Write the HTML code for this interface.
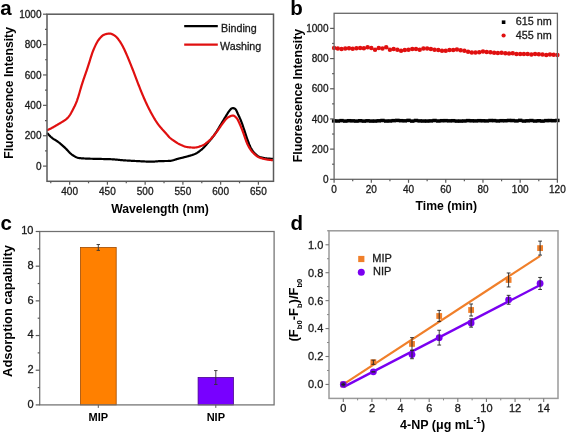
<!DOCTYPE html>
<html><head><meta charset="utf-8"><style>
html,body{margin:0;padding:0;background:#fff;width:567px;height:434px;overflow:hidden}
svg{display:block;filter:blur(0.3px)} text{font-family:"Liberation Sans", sans-serif} text[font-weight="normal"]{stroke:#1a1a1a;stroke-width:0.3px}
</style></head><body>
<svg width="567" height="434" viewBox="0 0 567 434">
<rect width="567" height="434" fill="#fff"/>
<text x="0.30" y="14.80" font-size="20.5" text-anchor="start" font-weight="bold" fill="#000" >a</text>
<path d="M47.00,133.07 L47.57,133.49 L48.13,134.06 L48.70,134.70 L49.27,135.31 L49.83,135.89 L50.40,136.44 L50.96,136.96 L51.53,137.45 L52.10,137.92 L52.66,138.36 L53.23,138.76 L53.80,139.13 L54.36,139.47 L54.93,139.79 L55.49,140.12 L56.06,140.47 L56.63,140.84 L57.19,141.23 L57.76,141.64 L58.33,142.06 L58.89,142.50 L59.46,142.94 L60.02,143.40 L60.59,143.87 L61.16,144.35 L61.72,144.83 L62.29,145.33 L62.86,145.82 L63.42,146.33 L63.99,146.83 L64.55,147.35 L65.12,147.88 L65.69,148.43 L66.25,149.02 L66.82,149.62 L67.39,150.24 L67.95,150.86 L68.52,151.48 L69.08,152.08 L69.65,152.66 L70.22,153.21 L70.78,153.72 L71.35,154.17 L71.91,154.59 L72.48,154.98 L73.05,155.36 L73.61,155.72 L74.18,156.07 L74.75,156.41 L75.31,156.73 L75.88,157.03 L76.44,157.29 L77.01,157.53 L77.58,157.72 L78.14,157.88 L78.71,158.00 L79.28,158.09 L79.84,158.15 L80.41,158.21 L80.97,158.26 L81.54,158.31 L82.11,158.35 L82.67,158.39 L83.24,158.43 L83.81,158.46 L84.37,158.49 L84.94,158.52 L85.50,158.55 L86.07,158.57 L86.64,158.60 L87.20,158.62 L87.77,158.64 L88.34,158.66 L88.90,158.68 L89.47,158.70 L90.03,158.71 L90.60,158.73 L91.17,158.75 L91.73,158.76 L92.30,158.77 L92.87,158.79 L93.43,158.80 L94.00,158.81 L94.56,158.82 L95.13,158.84 L95.70,158.85 L96.26,158.86 L96.83,158.87 L97.40,158.88 L97.96,158.89 L98.53,158.90 L99.09,158.92 L99.66,158.93 L100.23,158.94 L100.79,158.96 L101.36,158.97 L101.93,158.98 L102.49,159.00 L103.06,159.01 L103.62,159.03 L104.19,159.04 L104.76,159.05 L105.32,159.07 L105.89,159.08 L106.46,159.09 L107.02,159.11 L107.59,159.12 L108.16,159.14 L108.72,159.16 L109.29,159.18 L109.85,159.19 L110.42,159.21 L110.99,159.24 L111.55,159.26 L112.12,159.28 L112.69,159.31 L113.25,159.35 L113.82,159.39 L114.38,159.43 L114.95,159.48 L115.52,159.53 L116.08,159.58 L116.65,159.63 L117.22,159.69 L117.78,159.75 L118.35,159.81 L118.91,159.86 L119.48,159.92 L120.05,159.98 L120.61,160.04 L121.18,160.09 L121.75,160.15 L122.31,160.20 L122.88,160.25 L123.44,160.29 L124.01,160.33 L124.58,160.37 L125.14,160.41 L125.71,160.45 L126.28,160.49 L126.84,160.52 L127.41,160.56 L127.97,160.59 L128.54,160.62 L129.11,160.66 L129.67,160.69 L130.24,160.72 L130.81,160.75 L131.37,160.78 L131.94,160.81 L132.50,160.84 L133.07,160.87 L133.64,160.90 L134.20,160.93 L134.77,160.96 L135.33,160.99 L135.90,161.01 L136.47,161.04 L137.03,161.07 L137.60,161.10 L138.17,161.12 L138.73,161.15 L139.30,161.18 L139.87,161.21 L140.43,161.25 L141.00,161.28 L141.56,161.31 L142.13,161.34 L142.70,161.37 L143.26,161.41 L143.83,161.44 L144.39,161.47 L144.96,161.50 L145.53,161.52 L146.09,161.55 L146.66,161.58 L147.23,161.60 L147.79,161.62 L148.36,161.64 L148.93,161.66 L149.49,161.67 L150.06,161.68 L150.62,161.69 L151.19,161.70 L151.76,161.70 L152.32,161.69 L152.89,161.68 L153.45,161.65 L154.02,161.61 L154.59,161.57 L155.15,161.52 L155.72,161.47 L156.29,161.41 L156.85,161.35 L157.42,161.30 L157.99,161.24 L158.55,161.20 L159.12,161.16 L159.68,161.13 L160.25,161.10 L160.82,161.08 L161.38,161.07 L161.95,161.06 L162.51,161.05 L163.08,161.04 L163.65,161.04 L164.21,161.03 L164.78,161.02 L165.35,161.02 L165.91,161.01 L166.48,161.00 L167.05,161.00 L167.61,160.98 L168.18,160.97 L168.74,160.96 L169.31,160.93 L169.88,160.89 L170.44,160.83 L171.01,160.75 L171.57,160.64 L172.14,160.51 L172.71,160.37 L173.27,160.21 L173.84,160.05 L174.41,159.87 L174.97,159.69 L175.54,159.51 L176.10,159.33 L176.67,159.16 L177.24,158.99 L177.80,158.82 L178.37,158.67 L178.94,158.53 L179.50,158.39 L180.07,158.25 L180.63,158.11 L181.20,157.97 L181.77,157.84 L182.33,157.70 L182.90,157.56 L183.47,157.42 L184.03,157.28 L184.60,157.14 L185.16,157.00 L185.73,156.85 L186.30,156.70 L186.86,156.54 L187.43,156.39 L188.00,156.23 L188.56,156.07 L189.13,155.91 L189.69,155.75 L190.26,155.59 L190.83,155.43 L191.39,155.25 L191.96,155.08 L192.53,154.89 L193.09,154.69 L193.66,154.48 L194.22,154.26 L194.79,154.02 L195.36,153.76 L195.92,153.48 L196.49,153.18 L197.06,152.85 L197.62,152.50 L198.19,152.12 L198.75,151.73 L199.32,151.32 L199.89,150.90 L200.45,150.46 L201.02,150.01 L201.59,149.54 L202.15,149.06 L202.72,148.55 L203.28,148.01 L203.85,147.44 L204.42,146.85 L204.98,146.24 L205.55,145.61 L206.12,144.97 L206.68,144.31 L207.25,143.65 L207.81,142.99 L208.38,142.33 L208.95,141.66 L209.51,140.99 L210.08,140.32 L210.65,139.64 L211.21,138.94 L211.78,138.24 L212.34,137.52 L212.91,136.79 L213.48,136.05 L214.04,135.28 L214.61,134.50 L215.18,133.70 L215.74,132.87 L216.31,132.00 L216.88,131.11 L217.44,130.19 L218.01,129.24 L218.57,128.29 L219.14,127.33 L219.71,126.37 L220.27,125.42 L220.84,124.48 L221.41,123.54 L221.97,122.60 L222.54,121.65 L223.10,120.71 L223.67,119.77 L224.24,118.83 L224.80,117.90 L225.37,116.98 L225.94,116.06 L226.50,115.14 L227.07,114.22 L227.63,113.31 L228.20,112.43 L228.77,111.60 L229.33,110.83 L229.90,110.10 L230.47,109.43 L231.03,108.86 L231.60,108.46 L232.16,108.22 L232.73,108.15 L233.30,108.19 L233.86,108.30 L234.43,108.44 L235.00,108.69 L235.56,109.24 L236.13,110.11 L236.69,111.22 L237.26,112.51 L237.83,113.80 L238.39,114.99 L238.96,116.16 L239.53,117.35 L240.09,118.61 L240.66,119.95 L241.22,121.39 L241.79,122.91 L242.36,124.49 L242.92,126.11 L243.49,127.76 L244.06,129.45 L244.62,131.16 L245.19,132.91 L245.75,134.66 L246.32,136.38 L246.89,138.05 L247.45,139.67 L248.02,141.24 L248.59,142.75 L249.15,144.21 L249.72,145.57 L250.28,146.80 L250.85,147.92 L251.42,148.92 L251.98,149.84 L252.55,150.68 L253.12,151.44 L253.68,152.14 L254.25,152.78 L254.81,153.37 L255.38,153.92 L255.95,154.44 L256.51,154.94 L257.08,155.41 L257.64,155.83 L258.21,156.21 L258.78,156.53 L259.34,156.80 L259.91,157.02 L260.48,157.21 L261.04,157.37 L261.61,157.53 L262.18,157.67 L262.74,157.80 L263.31,157.92 L263.87,158.03 L264.44,158.13 L265.01,158.22 L265.57,158.31 L266.14,158.38 L266.71,158.44 L267.27,158.49 L267.84,158.54 L268.40,158.58 L268.97,158.63 L269.54,158.66 L270.10,158.70 L270.67,158.73 L271.24,158.76 L271.80,158.78 L272.37,158.80 L272.93,158.81 L273.50,158.81" fill="none" stroke="#000" stroke-width="2.2" stroke-linejoin="round"/>
<path d="M47.00,130.27 L47.57,130.10 L48.13,129.86 L48.70,129.58 L49.27,129.30 L49.83,129.01 L50.40,128.72 L50.96,128.42 L51.53,128.12 L52.10,127.82 L52.66,127.51 L53.23,127.19 L53.80,126.87 L54.36,126.55 L54.93,126.21 L55.49,125.87 L56.06,125.53 L56.63,125.19 L57.19,124.85 L57.76,124.51 L58.33,124.18 L58.89,123.85 L59.46,123.52 L60.02,123.19 L60.59,122.85 L61.16,122.52 L61.72,122.17 L62.29,121.82 L62.86,121.47 L63.42,121.11 L63.99,120.76 L64.55,120.39 L65.12,120.01 L65.69,119.60 L66.25,119.17 L66.82,118.69 L67.39,118.15 L67.95,117.55 L68.52,116.89 L69.08,116.17 L69.65,115.38 L70.22,114.51 L70.78,113.57 L71.35,112.56 L71.91,111.50 L72.48,110.42 L73.05,109.33 L73.61,108.23 L74.18,107.09 L74.75,105.92 L75.31,104.70 L75.88,103.41 L76.44,102.05 L77.01,100.58 L77.58,98.99 L78.14,97.27 L78.71,95.43 L79.28,93.51 L79.84,91.53 L80.41,89.55 L80.97,87.58 L81.54,85.68 L82.11,83.84 L82.67,82.07 L83.24,80.36 L83.81,78.69 L84.37,77.04 L84.94,75.41 L85.50,73.79 L86.07,72.16 L86.64,70.53 L87.20,68.87 L87.77,67.17 L88.34,65.42 L88.90,63.63 L89.47,61.80 L90.03,59.95 L90.60,58.11 L91.17,56.32 L91.73,54.60 L92.30,52.97 L92.87,51.44 L93.43,50.01 L94.00,48.66 L94.56,47.36 L95.13,46.10 L95.70,44.90 L96.26,43.76 L96.83,42.69 L97.40,41.70 L97.96,40.79 L98.53,39.97 L99.09,39.22 L99.66,38.53 L100.23,37.87 L100.79,37.24 L101.36,36.65 L101.93,36.12 L102.49,35.64 L103.06,35.24 L103.62,34.91 L104.19,34.64 L104.76,34.43 L105.32,34.25 L105.89,34.10 L106.46,33.95 L107.02,33.83 L107.59,33.72 L108.16,33.63 L108.72,33.57 L109.29,33.53 L109.85,33.54 L110.42,33.60 L110.99,33.71 L111.55,33.89 L112.12,34.13 L112.69,34.41 L113.25,34.72 L113.82,35.06 L114.38,35.42 L114.95,35.81 L115.52,36.24 L116.08,36.73 L116.65,37.29 L117.22,37.91 L117.78,38.58 L118.35,39.29 L118.91,40.04 L119.48,40.82 L120.05,41.65 L120.61,42.54 L121.18,43.49 L121.75,44.49 L122.31,45.53 L122.88,46.61 L123.44,47.72 L124.01,48.86 L124.58,50.04 L125.14,51.27 L125.71,52.52 L126.28,53.80 L126.84,55.10 L127.41,56.41 L127.97,57.75 L128.54,59.11 L129.11,60.49 L129.67,61.89 L130.24,63.30 L130.81,64.71 L131.37,66.14 L131.94,67.57 L132.50,69.01 L133.07,70.46 L133.64,71.92 L134.20,73.39 L134.77,74.87 L135.33,76.34 L135.90,77.82 L136.47,79.30 L137.03,80.79 L137.60,82.28 L138.17,83.77 L138.73,85.26 L139.30,86.72 L139.87,88.16 L140.43,89.59 L141.00,90.99 L141.56,92.38 L142.13,93.76 L142.70,95.11 L143.26,96.44 L143.83,97.76 L144.39,99.05 L144.96,100.32 L145.53,101.58 L146.09,102.81 L146.66,104.02 L147.23,105.22 L147.79,106.38 L148.36,107.53 L148.93,108.65 L149.49,109.76 L150.06,110.84 L150.62,111.91 L151.19,112.95 L151.76,113.98 L152.32,115.00 L152.89,116.00 L153.45,116.99 L154.02,117.96 L154.59,118.92 L155.15,119.86 L155.72,120.76 L156.29,121.64 L156.85,122.48 L157.42,123.29 L157.99,124.08 L158.55,124.83 L159.12,125.56 L159.68,126.28 L160.25,126.98 L160.82,127.66 L161.38,128.33 L161.95,128.99 L162.51,129.62 L163.08,130.24 L163.65,130.85 L164.21,131.45 L164.78,132.06 L165.35,132.67 L165.91,133.30 L166.48,133.95 L167.05,134.62 L167.61,135.30 L168.18,135.98 L168.74,136.62 L169.31,137.21 L169.88,137.75 L170.44,138.25 L171.01,138.71 L171.57,139.15 L172.14,139.56 L172.71,139.96 L173.27,140.35 L173.84,140.74 L174.41,141.12 L174.97,141.51 L175.54,141.89 L176.10,142.26 L176.67,142.63 L177.24,142.99 L177.80,143.34 L178.37,143.67 L178.94,143.99 L179.50,144.29 L180.07,144.57 L180.63,144.83 L181.20,145.09 L181.77,145.33 L182.33,145.57 L182.90,145.80 L183.47,146.03 L184.03,146.24 L184.60,146.44 L185.16,146.62 L185.73,146.78 L186.30,146.91 L186.86,147.02 L187.43,147.11 L188.00,147.18 L188.56,147.24 L189.13,147.30 L189.69,147.35 L190.26,147.40 L190.83,147.44 L191.39,147.48 L191.96,147.51 L192.53,147.54 L193.09,147.55 L193.66,147.56 L194.22,147.56 L194.79,147.54 L195.36,147.50 L195.92,147.43 L196.49,147.34 L197.06,147.22 L197.62,147.09 L198.19,146.94 L198.75,146.77 L199.32,146.60 L199.89,146.41 L200.45,146.22 L201.02,146.02 L201.59,145.81 L202.15,145.58 L202.72,145.33 L203.28,145.04 L203.85,144.72 L204.42,144.37 L204.98,144.00 L205.55,143.60 L206.12,143.17 L206.68,142.73 L207.25,142.28 L207.81,141.82 L208.38,141.34 L208.95,140.85 L209.51,140.32 L210.08,139.77 L210.65,139.19 L211.21,138.57 L211.78,137.94 L212.34,137.28 L212.91,136.61 L213.48,135.93 L214.04,135.23 L214.61,134.53 L215.18,133.83 L215.74,133.11 L216.31,132.37 L216.88,131.61 L217.44,130.82 L218.01,130.03 L218.57,129.22 L219.14,128.40 L219.71,127.58 L220.27,126.77 L220.84,125.98 L221.41,125.19 L221.97,124.43 L222.54,123.67 L223.10,122.91 L223.67,122.15 L224.24,121.38 L224.80,120.61 L225.37,119.88 L225.94,119.20 L226.50,118.59 L227.07,118.07 L227.63,117.63 L228.20,117.26 L228.77,116.94 L229.33,116.65 L229.90,116.37 L230.47,116.13 L231.03,115.92 L231.60,115.76 L232.16,115.64 L232.73,115.60 L233.30,115.65 L233.86,115.81 L234.43,116.10 L235.00,116.50 L235.56,116.99 L236.13,117.54 L236.69,118.19 L237.26,118.95 L237.83,119.87 L238.39,120.95 L238.96,122.17 L239.53,123.47 L240.09,124.80 L240.66,126.16 L241.22,127.54 L241.79,128.95 L242.36,130.41 L242.92,131.90 L243.49,133.44 L244.06,135.03 L244.62,136.67 L245.19,138.34 L245.75,139.98 L246.32,141.52 L246.89,142.92 L247.45,144.18 L248.02,145.33 L248.59,146.40 L249.15,147.40 L249.72,148.35 L250.28,149.24 L250.85,150.06 L251.42,150.82 L251.98,151.51 L252.55,152.16 L253.12,152.76 L253.68,153.34 L254.25,153.90 L254.81,154.43 L255.38,154.94 L255.95,155.42 L256.51,155.86 L257.08,156.27 L257.64,156.64 L258.21,156.97 L258.78,157.26 L259.34,157.50 L259.91,157.72 L260.48,157.91 L261.04,158.09 L261.61,158.27 L262.18,158.43 L262.74,158.59 L263.31,158.73 L263.87,158.88 L264.44,159.01 L265.01,159.13 L265.57,159.25 L266.14,159.36 L266.71,159.47 L267.27,159.56 L267.84,159.65 L268.40,159.74 L268.97,159.81 L269.54,159.88 L270.10,159.94 L270.67,160.00 L271.24,160.05 L271.80,160.09 L272.37,160.13 L272.93,160.15 L273.50,160.17" fill="none" stroke="#e01010" stroke-width="2.2" stroke-linejoin="round"/>
<rect x="47" y="14.2" width="226.5" height="167.10000000000002" fill="none" stroke="#5a5a5a" stroke-width="1.5"/>
<line x1="43.00" y1="166.11" x2="47.00" y2="166.11" stroke="#5a5a5a" stroke-width="1.2"/>
<text x="41.50" y="169.71" font-size="10" text-anchor="end" font-weight="normal" fill="#1a1a1a" >0</text>
<line x1="43.00" y1="135.73" x2="47.00" y2="135.73" stroke="#5a5a5a" stroke-width="1.2"/>
<text x="41.50" y="139.33" font-size="10" text-anchor="end" font-weight="normal" fill="#1a1a1a" >200</text>
<line x1="43.00" y1="105.35" x2="47.00" y2="105.35" stroke="#5a5a5a" stroke-width="1.2"/>
<text x="41.50" y="108.95" font-size="10" text-anchor="end" font-weight="normal" fill="#1a1a1a" >400</text>
<line x1="43.00" y1="74.96" x2="47.00" y2="74.96" stroke="#5a5a5a" stroke-width="1.2"/>
<text x="41.50" y="78.56" font-size="10" text-anchor="end" font-weight="normal" fill="#1a1a1a" >600</text>
<line x1="43.00" y1="44.58" x2="47.00" y2="44.58" stroke="#5a5a5a" stroke-width="1.2"/>
<text x="41.50" y="48.18" font-size="10" text-anchor="end" font-weight="normal" fill="#1a1a1a" >800</text>
<line x1="43.00" y1="14.20" x2="47.00" y2="14.20" stroke="#5a5a5a" stroke-width="1.2"/>
<text x="41.50" y="17.80" font-size="10" text-anchor="end" font-weight="normal" fill="#1a1a1a" >1000</text>
<line x1="45.00" y1="150.92" x2="47.00" y2="150.92" stroke="#5a5a5a" stroke-width="1.2"/>
<line x1="45.00" y1="120.54" x2="47.00" y2="120.54" stroke="#5a5a5a" stroke-width="1.2"/>
<line x1="45.00" y1="90.15" x2="47.00" y2="90.15" stroke="#5a5a5a" stroke-width="1.2"/>
<line x1="45.00" y1="59.77" x2="47.00" y2="59.77" stroke="#5a5a5a" stroke-width="1.2"/>
<line x1="45.00" y1="29.39" x2="47.00" y2="29.39" stroke="#5a5a5a" stroke-width="1.2"/>
<line x1="69.65" y1="181.30" x2="69.65" y2="184.80" stroke="#5a5a5a" stroke-width="1.2"/>
<text x="69.65" y="195.30" font-size="10" text-anchor="middle" font-weight="normal" fill="#1a1a1a" >400</text>
<line x1="107.40" y1="181.30" x2="107.40" y2="184.80" stroke="#5a5a5a" stroke-width="1.2"/>
<text x="107.40" y="195.30" font-size="10" text-anchor="middle" font-weight="normal" fill="#1a1a1a" >450</text>
<line x1="145.15" y1="181.30" x2="145.15" y2="184.80" stroke="#5a5a5a" stroke-width="1.2"/>
<text x="145.15" y="195.30" font-size="10" text-anchor="middle" font-weight="normal" fill="#1a1a1a" >500</text>
<line x1="182.90" y1="181.30" x2="182.90" y2="184.80" stroke="#5a5a5a" stroke-width="1.2"/>
<text x="182.90" y="195.30" font-size="10" text-anchor="middle" font-weight="normal" fill="#1a1a1a" >550</text>
<line x1="220.65" y1="181.30" x2="220.65" y2="184.80" stroke="#5a5a5a" stroke-width="1.2"/>
<text x="220.65" y="195.30" font-size="10" text-anchor="middle" font-weight="normal" fill="#1a1a1a" >600</text>
<line x1="258.40" y1="181.30" x2="258.40" y2="184.80" stroke="#5a5a5a" stroke-width="1.2"/>
<text x="258.40" y="195.30" font-size="10" text-anchor="middle" font-weight="normal" fill="#1a1a1a" >650</text>
<line x1="50.77" y1="181.30" x2="50.77" y2="183.30" stroke="#5a5a5a" stroke-width="1.2"/>
<line x1="88.53" y1="181.30" x2="88.53" y2="183.30" stroke="#5a5a5a" stroke-width="1.2"/>
<line x1="126.28" y1="181.30" x2="126.28" y2="183.30" stroke="#5a5a5a" stroke-width="1.2"/>
<line x1="164.03" y1="181.30" x2="164.03" y2="183.30" stroke="#5a5a5a" stroke-width="1.2"/>
<line x1="201.78" y1="181.30" x2="201.78" y2="183.30" stroke="#5a5a5a" stroke-width="1.2"/>
<line x1="239.53" y1="181.30" x2="239.53" y2="183.30" stroke="#5a5a5a" stroke-width="1.2"/>
<text x="12.60" y="92.90" font-size="12.15" text-anchor="middle" font-weight="bold" fill="#000" transform="rotate(-90 12.6 92.9)">Fluorescence Intensity</text>
<text x="160.00" y="212.90" font-size="12.2" text-anchor="middle" font-weight="bold" fill="#000" >Wavelength (nm)</text>
<line x1="184.20" y1="26.20" x2="217.80" y2="26.20" stroke="#000" stroke-width="2.2"/>
<text x="221.00" y="31.80" font-size="10.7" text-anchor="start" font-weight="normal" fill="#1a1a1a" >Binding</text>
<line x1="184.20" y1="44.70" x2="217.80" y2="44.70" stroke="#e01010" stroke-width="2.2"/>
<text x="220.00" y="49.80" font-size="10.7" text-anchor="start" font-weight="normal" fill="#1a1a1a" >Washing</text>
<text x="290.20" y="15.20" font-size="20.5" text-anchor="start" font-weight="bold" fill="#000" >b</text>
<rect x="331.90" y="119.13" width="4.4" height="3.5" fill="#000"/>
<rect x="335.62" y="119.26" width="4.4" height="3.5" fill="#000"/>
<rect x="339.34" y="118.88" width="4.4" height="3.5" fill="#000"/>
<rect x="343.07" y="119.32" width="4.4" height="3.5" fill="#000"/>
<rect x="346.79" y="118.97" width="4.4" height="3.5" fill="#000"/>
<rect x="350.51" y="119.10" width="4.4" height="3.5" fill="#000"/>
<rect x="354.23" y="119.33" width="4.4" height="3.5" fill="#000"/>
<rect x="357.95" y="118.99" width="4.4" height="3.5" fill="#000"/>
<rect x="361.67" y="119.35" width="4.4" height="3.5" fill="#000"/>
<rect x="365.40" y="119.05" width="4.4" height="3.5" fill="#000"/>
<rect x="369.12" y="119.32" width="4.4" height="3.5" fill="#000"/>
<rect x="372.84" y="119.31" width="4.4" height="3.5" fill="#000"/>
<rect x="376.56" y="119.05" width="4.4" height="3.5" fill="#000"/>
<rect x="380.28" y="118.75" width="4.4" height="3.5" fill="#000"/>
<rect x="384.00" y="119.28" width="4.4" height="3.5" fill="#000"/>
<rect x="387.73" y="119.21" width="4.4" height="3.5" fill="#000"/>
<rect x="391.45" y="118.90" width="4.4" height="3.5" fill="#000"/>
<rect x="395.17" y="118.66" width="4.4" height="3.5" fill="#000"/>
<rect x="398.89" y="118.94" width="4.4" height="3.5" fill="#000"/>
<rect x="402.61" y="119.08" width="4.4" height="3.5" fill="#000"/>
<rect x="406.33" y="118.64" width="4.4" height="3.5" fill="#000"/>
<rect x="410.06" y="119.34" width="4.4" height="3.5" fill="#000"/>
<rect x="413.78" y="118.73" width="4.4" height="3.5" fill="#000"/>
<rect x="417.50" y="119.16" width="4.4" height="3.5" fill="#000"/>
<rect x="421.22" y="119.27" width="4.4" height="3.5" fill="#000"/>
<rect x="424.94" y="119.29" width="4.4" height="3.5" fill="#000"/>
<rect x="428.66" y="119.14" width="4.4" height="3.5" fill="#000"/>
<rect x="432.38" y="118.76" width="4.4" height="3.5" fill="#000"/>
<rect x="436.11" y="119.24" width="4.4" height="3.5" fill="#000"/>
<rect x="439.83" y="118.94" width="4.4" height="3.5" fill="#000"/>
<rect x="443.55" y="118.89" width="4.4" height="3.5" fill="#000"/>
<rect x="447.27" y="119.09" width="4.4" height="3.5" fill="#000"/>
<rect x="450.99" y="118.96" width="4.4" height="3.5" fill="#000"/>
<rect x="454.72" y="119.33" width="4.4" height="3.5" fill="#000"/>
<rect x="458.44" y="119.33" width="4.4" height="3.5" fill="#000"/>
<rect x="462.16" y="119.22" width="4.4" height="3.5" fill="#000"/>
<rect x="465.88" y="118.86" width="4.4" height="3.5" fill="#000"/>
<rect x="469.60" y="119.05" width="4.4" height="3.5" fill="#000"/>
<rect x="473.32" y="119.14" width="4.4" height="3.5" fill="#000"/>
<rect x="477.05" y="118.93" width="4.4" height="3.5" fill="#000"/>
<rect x="480.77" y="119.03" width="4.4" height="3.5" fill="#000"/>
<rect x="484.49" y="119.15" width="4.4" height="3.5" fill="#000"/>
<rect x="488.21" y="118.78" width="4.4" height="3.5" fill="#000"/>
<rect x="491.93" y="118.85" width="4.4" height="3.5" fill="#000"/>
<rect x="495.65" y="119.19" width="4.4" height="3.5" fill="#000"/>
<rect x="499.38" y="118.94" width="4.4" height="3.5" fill="#000"/>
<rect x="503.10" y="118.98" width="4.4" height="3.5" fill="#000"/>
<rect x="506.82" y="118.71" width="4.4" height="3.5" fill="#000"/>
<rect x="510.54" y="118.82" width="4.4" height="3.5" fill="#000"/>
<rect x="514.26" y="119.16" width="4.4" height="3.5" fill="#000"/>
<rect x="517.98" y="118.63" width="4.4" height="3.5" fill="#000"/>
<rect x="521.70" y="119.29" width="4.4" height="3.5" fill="#000"/>
<rect x="525.43" y="119.06" width="4.4" height="3.5" fill="#000"/>
<rect x="529.15" y="118.80" width="4.4" height="3.5" fill="#000"/>
<rect x="532.87" y="119.26" width="4.4" height="3.5" fill="#000"/>
<rect x="536.59" y="119.01" width="4.4" height="3.5" fill="#000"/>
<rect x="540.31" y="119.34" width="4.4" height="3.5" fill="#000"/>
<rect x="544.03" y="118.87" width="4.4" height="3.5" fill="#000"/>
<rect x="547.76" y="118.80" width="4.4" height="3.5" fill="#000"/>
<rect x="551.48" y="118.94" width="4.4" height="3.5" fill="#000"/>
<rect x="555.20" y="118.71" width="4.4" height="3.5" fill="#000"/>
<circle cx="334.10" cy="47.95" r="2.25" fill="#e01010"/>
<circle cx="337.82" cy="48.58" r="2.25" fill="#e01010"/>
<circle cx="341.54" cy="49.01" r="2.25" fill="#e01010"/>
<circle cx="345.27" cy="48.58" r="2.25" fill="#e01010"/>
<circle cx="348.99" cy="48.16" r="2.25" fill="#e01010"/>
<circle cx="352.71" cy="48.79" r="2.25" fill="#e01010"/>
<circle cx="356.43" cy="48.16" r="2.25" fill="#e01010"/>
<circle cx="360.15" cy="47.95" r="2.25" fill="#e01010"/>
<circle cx="363.87" cy="48.16" r="2.25" fill="#e01010"/>
<circle cx="367.60" cy="47.31" r="2.25" fill="#e01010"/>
<circle cx="371.32" cy="47.95" r="2.25" fill="#e01010"/>
<circle cx="375.04" cy="49.64" r="2.25" fill="#e01010"/>
<circle cx="378.76" cy="47.95" r="2.25" fill="#e01010"/>
<circle cx="382.48" cy="48.58" r="2.25" fill="#e01010"/>
<circle cx="386.20" cy="47.31" r="2.25" fill="#e01010"/>
<circle cx="389.93" cy="49.64" r="2.25" fill="#e01010"/>
<circle cx="393.65" cy="49.01" r="2.25" fill="#e01010"/>
<circle cx="397.37" cy="49.64" r="2.25" fill="#e01010"/>
<circle cx="401.09" cy="50.70" r="2.25" fill="#e01010"/>
<circle cx="404.81" cy="50.06" r="2.25" fill="#e01010"/>
<circle cx="408.53" cy="49.64" r="2.25" fill="#e01010"/>
<circle cx="412.25" cy="49.01" r="2.25" fill="#e01010"/>
<circle cx="415.98" cy="49.01" r="2.25" fill="#e01010"/>
<circle cx="419.70" cy="49.64" r="2.25" fill="#e01010"/>
<circle cx="423.42" cy="48.58" r="2.25" fill="#e01010"/>
<circle cx="427.14" cy="48.58" r="2.25" fill="#e01010"/>
<circle cx="430.86" cy="49.01" r="2.25" fill="#e01010"/>
<circle cx="434.58" cy="49.64" r="2.25" fill="#e01010"/>
<circle cx="438.31" cy="50.06" r="2.25" fill="#e01010"/>
<circle cx="442.03" cy="50.70" r="2.25" fill="#e01010"/>
<circle cx="445.75" cy="50.70" r="2.25" fill="#e01010"/>
<circle cx="449.47" cy="49.97" r="2.25" fill="#e01010"/>
<circle cx="453.19" cy="49.97" r="2.25" fill="#e01010"/>
<circle cx="456.92" cy="49.58" r="2.25" fill="#e01010"/>
<circle cx="460.64" cy="50.22" r="2.25" fill="#e01010"/>
<circle cx="464.36" cy="50.77" r="2.25" fill="#e01010"/>
<circle cx="468.08" cy="51.74" r="2.25" fill="#e01010"/>
<circle cx="471.80" cy="52.49" r="2.25" fill="#e01010"/>
<circle cx="475.52" cy="52.61" r="2.25" fill="#e01010"/>
<circle cx="479.25" cy="52.34" r="2.25" fill="#e01010"/>
<circle cx="482.97" cy="51.42" r="2.25" fill="#e01010"/>
<circle cx="486.69" cy="51.95" r="2.25" fill="#e01010"/>
<circle cx="490.41" cy="52.22" r="2.25" fill="#e01010"/>
<circle cx="494.13" cy="52.79" r="2.25" fill="#e01010"/>
<circle cx="497.85" cy="52.94" r="2.25" fill="#e01010"/>
<circle cx="501.57" cy="52.79" r="2.25" fill="#e01010"/>
<circle cx="505.30" cy="53.13" r="2.25" fill="#e01010"/>
<circle cx="509.02" cy="53.60" r="2.25" fill="#e01010"/>
<circle cx="512.74" cy="53.33" r="2.25" fill="#e01010"/>
<circle cx="516.46" cy="53.91" r="2.25" fill="#e01010"/>
<circle cx="520.18" cy="53.88" r="2.25" fill="#e01010"/>
<circle cx="523.90" cy="54.05" r="2.25" fill="#e01010"/>
<circle cx="527.63" cy="54.05" r="2.25" fill="#e01010"/>
<circle cx="531.35" cy="54.61" r="2.25" fill="#e01010"/>
<circle cx="535.07" cy="54.10" r="2.25" fill="#e01010"/>
<circle cx="538.79" cy="54.33" r="2.25" fill="#e01010"/>
<circle cx="542.51" cy="54.59" r="2.25" fill="#e01010"/>
<circle cx="546.23" cy="55.10" r="2.25" fill="#e01010"/>
<circle cx="549.96" cy="54.50" r="2.25" fill="#e01010"/>
<circle cx="553.68" cy="54.83" r="2.25" fill="#e01010"/>
<circle cx="557.40" cy="54.94" r="2.25" fill="#e01010"/>
<rect x="334.1" y="13.3" width="223.29999999999995" height="166.0" fill="none" stroke="#686868" stroke-width="1.3"/>
<line x1="330.10" y1="179.30" x2="334.10" y2="179.30" stroke="#5a5a5a" stroke-width="1.2"/>
<text x="328.50" y="182.90" font-size="10" text-anchor="end" font-weight="normal" fill="#1a1a1a" >0</text>
<line x1="330.10" y1="149.12" x2="334.10" y2="149.12" stroke="#5a5a5a" stroke-width="1.2"/>
<text x="328.50" y="152.72" font-size="10" text-anchor="end" font-weight="normal" fill="#1a1a1a" >200</text>
<line x1="330.10" y1="118.94" x2="334.10" y2="118.94" stroke="#5a5a5a" stroke-width="1.2"/>
<text x="328.50" y="122.54" font-size="10" text-anchor="end" font-weight="normal" fill="#1a1a1a" >400</text>
<line x1="330.10" y1="88.75" x2="334.10" y2="88.75" stroke="#5a5a5a" stroke-width="1.2"/>
<text x="328.50" y="92.35" font-size="10" text-anchor="end" font-weight="normal" fill="#1a1a1a" >600</text>
<line x1="330.10" y1="58.57" x2="334.10" y2="58.57" stroke="#5a5a5a" stroke-width="1.2"/>
<text x="328.50" y="62.17" font-size="10" text-anchor="end" font-weight="normal" fill="#1a1a1a" >800</text>
<line x1="330.10" y1="28.39" x2="334.10" y2="28.39" stroke="#5a5a5a" stroke-width="1.2"/>
<text x="328.50" y="31.99" font-size="10" text-anchor="end" font-weight="normal" fill="#1a1a1a" >1000</text>
<line x1="332.10" y1="164.21" x2="334.10" y2="164.21" stroke="#5a5a5a" stroke-width="1.2"/>
<line x1="332.10" y1="134.03" x2="334.10" y2="134.03" stroke="#5a5a5a" stroke-width="1.2"/>
<line x1="332.10" y1="103.85" x2="334.10" y2="103.85" stroke="#5a5a5a" stroke-width="1.2"/>
<line x1="332.10" y1="73.66" x2="334.10" y2="73.66" stroke="#5a5a5a" stroke-width="1.2"/>
<line x1="332.10" y1="43.48" x2="334.10" y2="43.48" stroke="#5a5a5a" stroke-width="1.2"/>
<line x1="334.10" y1="179.30" x2="334.10" y2="182.80" stroke="#5a5a5a" stroke-width="1.2"/>
<text x="334.10" y="193.00" font-size="10" text-anchor="middle" font-weight="normal" fill="#1a1a1a" >0</text>
<line x1="371.32" y1="179.30" x2="371.32" y2="182.80" stroke="#5a5a5a" stroke-width="1.2"/>
<text x="371.32" y="193.00" font-size="10" text-anchor="middle" font-weight="normal" fill="#1a1a1a" >20</text>
<line x1="408.53" y1="179.30" x2="408.53" y2="182.80" stroke="#5a5a5a" stroke-width="1.2"/>
<text x="408.53" y="193.00" font-size="10" text-anchor="middle" font-weight="normal" fill="#1a1a1a" >40</text>
<line x1="445.75" y1="179.30" x2="445.75" y2="182.80" stroke="#5a5a5a" stroke-width="1.2"/>
<text x="445.75" y="193.00" font-size="10" text-anchor="middle" font-weight="normal" fill="#1a1a1a" >60</text>
<line x1="482.97" y1="179.30" x2="482.97" y2="182.80" stroke="#5a5a5a" stroke-width="1.2"/>
<text x="482.97" y="193.00" font-size="10" text-anchor="middle" font-weight="normal" fill="#1a1a1a" >80</text>
<line x1="520.18" y1="179.30" x2="520.18" y2="182.80" stroke="#5a5a5a" stroke-width="1.2"/>
<text x="520.18" y="193.00" font-size="10" text-anchor="middle" font-weight="normal" fill="#1a1a1a" >100</text>
<line x1="557.40" y1="179.30" x2="557.40" y2="182.80" stroke="#5a5a5a" stroke-width="1.2"/>
<text x="557.40" y="193.00" font-size="10" text-anchor="middle" font-weight="normal" fill="#1a1a1a" >120</text>
<line x1="352.71" y1="179.30" x2="352.71" y2="181.30" stroke="#5a5a5a" stroke-width="1.2"/>
<line x1="389.93" y1="179.30" x2="389.93" y2="181.30" stroke="#5a5a5a" stroke-width="1.2"/>
<line x1="427.14" y1="179.30" x2="427.14" y2="181.30" stroke="#5a5a5a" stroke-width="1.2"/>
<line x1="464.36" y1="179.30" x2="464.36" y2="181.30" stroke="#5a5a5a" stroke-width="1.2"/>
<line x1="501.57" y1="179.30" x2="501.57" y2="181.30" stroke="#5a5a5a" stroke-width="1.2"/>
<line x1="538.79" y1="179.30" x2="538.79" y2="181.30" stroke="#5a5a5a" stroke-width="1.2"/>
<text x="302.00" y="95.50" font-size="12.3" text-anchor="middle" font-weight="bold" fill="#000" transform="rotate(-90 302 95.5)">Fluorescence Intensity</text>
<text x="446.30" y="210.30" font-size="12.2" text-anchor="middle" font-weight="bold" fill="#000" >Time (min)</text>
<rect x="501.8" y="20.4" width="3.6" height="3.6" fill="#000"/>
<text x="515.80" y="25.40" font-size="10.8" text-anchor="start" font-weight="normal" fill="#1a1a1a" >615 nm</text>
<circle cx="503.6" cy="35.5" r="2.1" fill="#e01010"/>
<text x="515.80" y="39.20" font-size="10.8" text-anchor="start" font-weight="normal" fill="#1a1a1a" >455 nm</text>
<text x="0.40" y="230.20" font-size="20.5" text-anchor="start" font-weight="bold" fill="#000" >c</text>
<rect x="80.5" y="247.45" width="35.7" height="157.45" fill="#ff8000" stroke="#a04a00" stroke-width="0.8"/>
<rect x="198.1" y="377.50" width="35.3" height="27.40" fill="#7800ff" stroke="#4a0090" stroke-width="0.8"/>
<line x1="98.30" y1="244.50" x2="98.30" y2="250.40" stroke="#333" stroke-width="0.9"/>
<line x1="96.60" y1="244.50" x2="100.00" y2="244.50" stroke="#333" stroke-width="0.9"/>
<line x1="96.60" y1="250.40" x2="100.00" y2="250.40" stroke="#333" stroke-width="0.9"/>
<line x1="215.80" y1="370.57" x2="215.80" y2="384.44" stroke="#333" stroke-width="0.9"/>
<line x1="214.10" y1="370.57" x2="217.50" y2="370.57" stroke="#333" stroke-width="0.9"/>
<line x1="214.10" y1="384.44" x2="217.50" y2="384.44" stroke="#333" stroke-width="0.9"/>
<rect x="39.7" y="231.5" width="234.40000000000003" height="173.39999999999998" fill="none" stroke="#707070" stroke-width="1.25"/>
<line x1="35.70" y1="404.90" x2="39.70" y2="404.90" stroke="#5a5a5a" stroke-width="1.2"/>
<text x="33.50" y="407.80" font-size="11" text-anchor="end" font-weight="normal" fill="#1a1a1a" >0</text>
<line x1="35.70" y1="370.22" x2="39.70" y2="370.22" stroke="#5a5a5a" stroke-width="1.2"/>
<text x="33.50" y="373.12" font-size="11" text-anchor="end" font-weight="normal" fill="#1a1a1a" >2</text>
<line x1="35.70" y1="335.54" x2="39.70" y2="335.54" stroke="#5a5a5a" stroke-width="1.2"/>
<text x="33.50" y="338.44" font-size="11" text-anchor="end" font-weight="normal" fill="#1a1a1a" >4</text>
<line x1="35.70" y1="300.86" x2="39.70" y2="300.86" stroke="#5a5a5a" stroke-width="1.2"/>
<text x="33.50" y="303.76" font-size="11" text-anchor="end" font-weight="normal" fill="#1a1a1a" >6</text>
<line x1="35.70" y1="266.18" x2="39.70" y2="266.18" stroke="#5a5a5a" stroke-width="1.2"/>
<text x="33.50" y="269.08" font-size="11" text-anchor="end" font-weight="normal" fill="#1a1a1a" >8</text>
<line x1="35.70" y1="231.50" x2="39.70" y2="231.50" stroke="#5a5a5a" stroke-width="1.2"/>
<text x="33.50" y="234.40" font-size="11" text-anchor="end" font-weight="normal" fill="#1a1a1a" >10</text>
<line x1="37.70" y1="387.56" x2="39.70" y2="387.56" stroke="#5a5a5a" stroke-width="1.2"/>
<line x1="37.70" y1="352.88" x2="39.70" y2="352.88" stroke="#5a5a5a" stroke-width="1.2"/>
<line x1="37.70" y1="318.20" x2="39.70" y2="318.20" stroke="#5a5a5a" stroke-width="1.2"/>
<line x1="37.70" y1="283.52" x2="39.70" y2="283.52" stroke="#5a5a5a" stroke-width="1.2"/>
<line x1="37.70" y1="248.84" x2="39.70" y2="248.84" stroke="#5a5a5a" stroke-width="1.2"/>
<line x1="98.30" y1="404.90" x2="98.30" y2="407.90" stroke="#5a5a5a" stroke-width="1.0"/>
<text x="98.30" y="420.60" font-size="11" text-anchor="middle" font-weight="bold" fill="#000" >MIP</text>
<line x1="215.80" y1="404.90" x2="215.80" y2="407.90" stroke="#5a5a5a" stroke-width="1.0"/>
<text x="215.80" y="420.60" font-size="11" text-anchor="middle" font-weight="bold" fill="#000" >NIP</text>
<text x="11.70" y="311.00" font-size="12.9" text-anchor="middle" font-weight="bold" fill="#000" transform="rotate(-90 11.7 311)">Adsorption capability</text>
<text x="290.50" y="229.80" font-size="20.5" text-anchor="start" font-weight="bold" fill="#000" >d</text>
<line x1="343.31" y1="384.43" x2="540.25" y2="255.80" stroke="#f07f2a" stroke-width="2.2"/>
<line x1="343.31" y1="387.09" x2="540.25" y2="284.99" stroke="#7a00f0" stroke-width="2.4"/>
<rect x="340.41" y="381.53" width="5.8" height="5.8" fill="#f07f2a"/>
<rect x="370.47" y="359.33" width="5.8" height="5.8" fill="#f07f2a"/>
<rect x="409.11" y="341.03" width="5.8" height="5.8" fill="#f07f2a"/>
<rect x="436.31" y="313.10" width="5.8" height="5.8" fill="#f07f2a"/>
<rect x="468.22" y="307.09" width="5.8" height="5.8" fill="#f07f2a"/>
<rect x="505.72" y="277.06" width="5.8" height="5.8" fill="#f07f2a"/>
<rect x="537.21" y="245.22" width="5.8" height="5.8" fill="#f07f2a"/>
<circle cx="343.31" cy="384.43" r="3.4" fill="#7a00f0"/>
<circle cx="373.37" cy="371.86" r="3.4" fill="#7a00f0"/>
<circle cx="412.01" cy="354.54" r="3.4" fill="#7a00f0"/>
<circle cx="439.21" cy="337.64" r="3.4" fill="#7a00f0"/>
<circle cx="471.12" cy="322.98" r="3.4" fill="#7a00f0"/>
<circle cx="508.62" cy="299.80" r="3.4" fill="#7a00f0"/>
<circle cx="540.11" cy="283.45" r="3.4" fill="#7a00f0"/>
<line x1="343.31" y1="383.04" x2="343.31" y2="385.83" stroke="#222" stroke-width="0.9"/>
<line x1="341.41" y1="383.04" x2="345.21" y2="383.04" stroke="#222" stroke-width="0.9"/>
<line x1="341.41" y1="385.83" x2="345.21" y2="385.83" stroke="#222" stroke-width="0.9"/>
<line x1="373.37" y1="360.13" x2="373.37" y2="364.32" stroke="#222" stroke-width="0.9"/>
<line x1="371.47" y1="360.13" x2="375.27" y2="360.13" stroke="#222" stroke-width="0.9"/>
<line x1="371.47" y1="364.32" x2="375.27" y2="364.32" stroke="#222" stroke-width="0.9"/>
<line x1="412.01" y1="337.64" x2="412.01" y2="350.21" stroke="#222" stroke-width="0.9"/>
<line x1="410.11" y1="337.64" x2="413.91" y2="337.64" stroke="#222" stroke-width="0.9"/>
<line x1="410.11" y1="350.21" x2="413.91" y2="350.21" stroke="#222" stroke-width="0.9"/>
<line x1="439.21" y1="310.41" x2="439.21" y2="321.58" stroke="#222" stroke-width="0.9"/>
<line x1="437.31" y1="310.41" x2="441.11" y2="310.41" stroke="#222" stroke-width="0.9"/>
<line x1="437.31" y1="321.58" x2="441.11" y2="321.58" stroke="#222" stroke-width="0.9"/>
<line x1="471.12" y1="303.99" x2="471.12" y2="316.00" stroke="#222" stroke-width="0.9"/>
<line x1="469.22" y1="303.99" x2="473.02" y2="303.99" stroke="#222" stroke-width="0.9"/>
<line x1="469.22" y1="316.00" x2="473.02" y2="316.00" stroke="#222" stroke-width="0.9"/>
<line x1="508.62" y1="272.98" x2="508.62" y2="286.95" stroke="#222" stroke-width="0.9"/>
<line x1="506.72" y1="272.98" x2="510.52" y2="272.98" stroke="#222" stroke-width="0.9"/>
<line x1="506.72" y1="286.95" x2="510.52" y2="286.95" stroke="#222" stroke-width="0.9"/>
<line x1="540.11" y1="241.14" x2="540.11" y2="255.10" stroke="#222" stroke-width="0.9"/>
<line x1="538.21" y1="241.14" x2="542.01" y2="241.14" stroke="#222" stroke-width="0.9"/>
<line x1="538.21" y1="255.10" x2="542.01" y2="255.10" stroke="#222" stroke-width="0.9"/>
<line x1="343.31" y1="384.43" x2="343.31" y2="384.43" stroke="#222" stroke-width="0.9"/>
<line x1="341.41" y1="384.43" x2="345.21" y2="384.43" stroke="#222" stroke-width="0.9"/>
<line x1="341.41" y1="384.43" x2="345.21" y2="384.43" stroke="#222" stroke-width="0.9"/>
<line x1="373.37" y1="371.86" x2="373.37" y2="371.86" stroke="#222" stroke-width="0.9"/>
<line x1="371.47" y1="371.86" x2="375.27" y2="371.86" stroke="#222" stroke-width="0.9"/>
<line x1="371.47" y1="371.86" x2="375.27" y2="371.86" stroke="#222" stroke-width="0.9"/>
<line x1="412.01" y1="350.35" x2="412.01" y2="358.73" stroke="#222" stroke-width="0.9"/>
<line x1="410.11" y1="350.35" x2="413.91" y2="350.35" stroke="#222" stroke-width="0.9"/>
<line x1="410.11" y1="358.73" x2="413.91" y2="358.73" stroke="#222" stroke-width="0.9"/>
<line x1="439.21" y1="330.24" x2="439.21" y2="345.05" stroke="#222" stroke-width="0.9"/>
<line x1="437.31" y1="330.24" x2="441.11" y2="330.24" stroke="#222" stroke-width="0.9"/>
<line x1="437.31" y1="345.05" x2="441.11" y2="345.05" stroke="#222" stroke-width="0.9"/>
<line x1="471.12" y1="318.79" x2="471.12" y2="327.17" stroke="#222" stroke-width="0.9"/>
<line x1="469.22" y1="318.79" x2="473.02" y2="318.79" stroke="#222" stroke-width="0.9"/>
<line x1="469.22" y1="327.17" x2="473.02" y2="327.17" stroke="#222" stroke-width="0.9"/>
<line x1="508.62" y1="295.33" x2="508.62" y2="304.26" stroke="#222" stroke-width="0.9"/>
<line x1="506.72" y1="295.33" x2="510.52" y2="295.33" stroke="#222" stroke-width="0.9"/>
<line x1="506.72" y1="304.26" x2="510.52" y2="304.26" stroke="#222" stroke-width="0.9"/>
<line x1="540.11" y1="277.45" x2="540.11" y2="289.46" stroke="#222" stroke-width="0.9"/>
<line x1="538.21" y1="277.45" x2="542.01" y2="277.45" stroke="#222" stroke-width="0.9"/>
<line x1="538.21" y1="289.46" x2="542.01" y2="289.46" stroke="#222" stroke-width="0.9"/>
<rect x="329" y="230.8" width="229" height="167.59999999999997" fill="none" stroke="#9a9a9a" stroke-width="1.5"/>
<line x1="325.50" y1="384.43" x2="329.00" y2="384.43" stroke="#777" stroke-width="1.1"/>
<text x="323.30" y="388.33" font-size="11" text-anchor="end" font-weight="normal" fill="#1a1a1a" >0.0</text>
<line x1="325.50" y1="356.50" x2="329.00" y2="356.50" stroke="#777" stroke-width="1.1"/>
<text x="323.30" y="360.40" font-size="11" text-anchor="end" font-weight="normal" fill="#1a1a1a" >0.2</text>
<line x1="325.50" y1="328.57" x2="329.00" y2="328.57" stroke="#777" stroke-width="1.1"/>
<text x="323.30" y="332.47" font-size="11" text-anchor="end" font-weight="normal" fill="#1a1a1a" >0.4</text>
<line x1="325.50" y1="300.63" x2="329.00" y2="300.63" stroke="#777" stroke-width="1.1"/>
<text x="323.30" y="304.53" font-size="11" text-anchor="end" font-weight="normal" fill="#1a1a1a" >0.6</text>
<line x1="325.50" y1="272.70" x2="329.00" y2="272.70" stroke="#777" stroke-width="1.1"/>
<text x="323.30" y="276.60" font-size="11" text-anchor="end" font-weight="normal" fill="#1a1a1a" >0.8</text>
<line x1="325.50" y1="244.77" x2="329.00" y2="244.77" stroke="#777" stroke-width="1.1"/>
<text x="323.30" y="248.67" font-size="11" text-anchor="end" font-weight="normal" fill="#1a1a1a" >1.0</text>
<line x1="327.00" y1="370.47" x2="329.00" y2="370.47" stroke="#888" stroke-width="1.0"/>
<line x1="327.00" y1="342.53" x2="329.00" y2="342.53" stroke="#888" stroke-width="1.0"/>
<line x1="327.00" y1="314.60" x2="329.00" y2="314.60" stroke="#888" stroke-width="1.0"/>
<line x1="327.00" y1="286.67" x2="329.00" y2="286.67" stroke="#888" stroke-width="1.0"/>
<line x1="327.00" y1="258.73" x2="329.00" y2="258.73" stroke="#888" stroke-width="1.0"/>
<line x1="327.00" y1="230.80" x2="329.00" y2="230.80" stroke="#888" stroke-width="1.0"/>
<line x1="343.31" y1="398.40" x2="343.31" y2="401.90" stroke="#777" stroke-width="1.1"/>
<text x="343.31" y="412.00" font-size="11" text-anchor="middle" font-weight="normal" fill="#1a1a1a" >0</text>
<line x1="371.94" y1="398.40" x2="371.94" y2="401.90" stroke="#777" stroke-width="1.1"/>
<text x="371.94" y="412.00" font-size="11" text-anchor="middle" font-weight="normal" fill="#1a1a1a" >2</text>
<line x1="400.56" y1="398.40" x2="400.56" y2="401.90" stroke="#777" stroke-width="1.1"/>
<text x="400.56" y="412.00" font-size="11" text-anchor="middle" font-weight="normal" fill="#1a1a1a" >4</text>
<line x1="429.19" y1="398.40" x2="429.19" y2="401.90" stroke="#777" stroke-width="1.1"/>
<text x="429.19" y="412.00" font-size="11" text-anchor="middle" font-weight="normal" fill="#1a1a1a" >6</text>
<line x1="457.81" y1="398.40" x2="457.81" y2="401.90" stroke="#777" stroke-width="1.1"/>
<text x="457.81" y="412.00" font-size="11" text-anchor="middle" font-weight="normal" fill="#1a1a1a" >8</text>
<line x1="486.44" y1="398.40" x2="486.44" y2="401.90" stroke="#777" stroke-width="1.1"/>
<text x="486.44" y="412.00" font-size="11" text-anchor="middle" font-weight="normal" fill="#1a1a1a" >10</text>
<line x1="515.06" y1="398.40" x2="515.06" y2="401.90" stroke="#777" stroke-width="1.1"/>
<text x="515.06" y="412.00" font-size="11" text-anchor="middle" font-weight="normal" fill="#1a1a1a" >12</text>
<line x1="543.69" y1="398.40" x2="543.69" y2="401.90" stroke="#777" stroke-width="1.1"/>
<text x="543.69" y="412.00" font-size="11" text-anchor="middle" font-weight="normal" fill="#1a1a1a" >14</text>
<line x1="357.62" y1="398.40" x2="357.62" y2="400.40" stroke="#888" stroke-width="1.0"/>
<line x1="386.25" y1="398.40" x2="386.25" y2="400.40" stroke="#888" stroke-width="1.0"/>
<line x1="414.88" y1="398.40" x2="414.88" y2="400.40" stroke="#888" stroke-width="1.0"/>
<line x1="443.50" y1="398.40" x2="443.50" y2="400.40" stroke="#888" stroke-width="1.0"/>
<line x1="472.12" y1="398.40" x2="472.12" y2="400.40" stroke="#888" stroke-width="1.0"/>
<line x1="500.75" y1="398.40" x2="500.75" y2="400.40" stroke="#888" stroke-width="1.0"/>
<line x1="529.38" y1="398.40" x2="529.38" y2="400.40" stroke="#888" stroke-width="1.0"/>
<rect x="358.2" y="255.9" width="6.2" height="6.2" fill="#f07f2a"/>
<text x="372.30" y="261.90" font-size="11" text-anchor="start" font-weight="normal" fill="#1a1a1a" >MIP</text>
<circle cx="361.3" cy="272.2" r="3.5" fill="#7a00f0"/>
<text x="373.00" y="275.30" font-size="11" text-anchor="start" font-weight="normal" fill="#1a1a1a" >NIP</text>
<text transform="translate(297.6 341.5) rotate(-90)" font-size="13" font-weight="bold" fill="#000">(F<tspan font-size="7.6" dy="4.8">b0</tspan><tspan dy="-4.8">-F</tspan><tspan font-size="7.6" dy="4.8">b</tspan><tspan dy="-4.8">)/F</tspan><tspan font-size="7.6" dy="4.8">b0</tspan></text>
<text x="400.1" y="428.9" font-size="12.5" font-weight="bold" fill="#000">4-NP (μg mL<tspan font-size="8.5" dy="-5.5">-1</tspan><tspan dy="5.5">)</tspan></text>
</svg></body></html>
